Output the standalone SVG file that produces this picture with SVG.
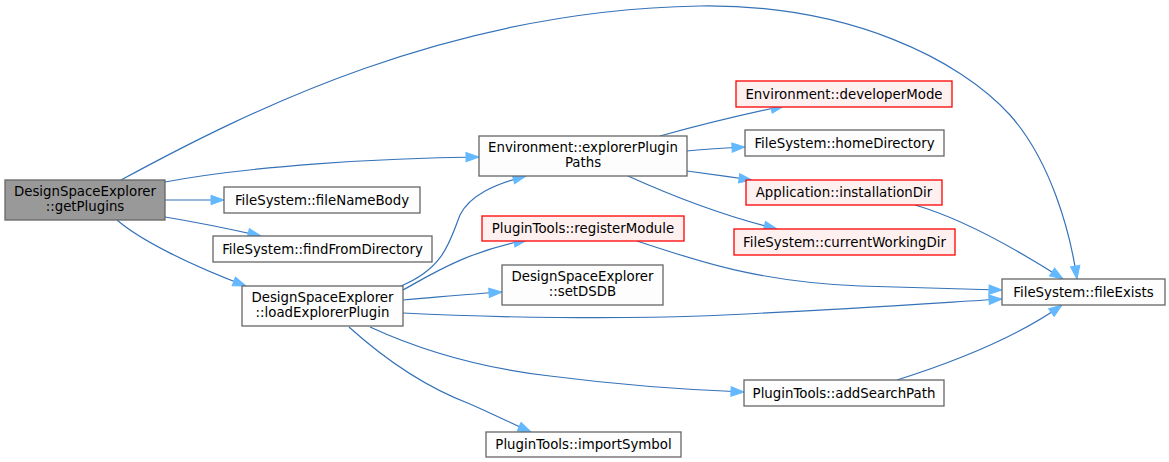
<svg xmlns="http://www.w3.org/2000/svg" width="1169" height="462" viewBox="0 0 1169 462">
<defs>
<style>
.n rect{fill:#fcfdfc;stroke:#666666;stroke-width:1.3}
.n.r rect{fill:#fff0f0;stroke:#ff0000}
.n.g rect{fill:#999999;stroke:#666666}
.n text{font-family:"DejaVu Sans",sans-serif;font-size:13.33px;fill:#000;text-anchor:middle}
.e path{fill:none;stroke:#3572b8;stroke-width:1.2;marker-end:url(#ah)}
</style>
<marker id="ah" markerUnits="userSpaceOnUse" markerWidth="14" markerHeight="10" refX="13" refY="4.7" orient="auto" overflow="visible">
<path d="M0,0 L13,4.7 L0,9.4 z" fill="#63b8ff" stroke="#63b8ff" stroke-width="1"/>
</marker>
</defs>
<rect width="1169" height="462" fill="#ffffff"/>
<g id="edges" class="e">
<path d="M121,180 C250,110 450,10 700,6 C850,4 960,60 1010,115 C1050,160 1070,230 1077,279"/>
<path d="M165,182 C250,166 380,158 479,157"/>
<path d="M165,200 L224,200"/>
<path d="M165,217 C195,222 230,229 261,236"/>
<path d="M117,220 C140,240 190,265 246,286"/>
<path d="M401,286 C445,268 450,240 460,215 C470,195 495,184 526,176"/>
<path d="M403,290 C430,275 470,250 527,240"/>
<path d="M403,300 C440,297 470,294 502,292"/>
<path d="M403,313 C500,318 620,319 700,316 C800,312 920,304 1002,299"/>
<path d="M637,241 C700,262 760,282 860,286 C920,288 960,289 1002,290"/>
<path d="M370,327 C420,350 480,368 550,376 C620,385 690,390 744,392"/>
<path d="M349,327 C380,355 420,385 470,404 C495,415 515,425 531,432"/>
<path d="M660,136 C700,125 740,115 784,106"/>
<path d="M687,151 C705,149 725,148 745,147"/>
<path d="M687,171 C710,174 730,177 752,180"/>
<path d="M628,176 C670,195 720,215 777,229"/>
<path d="M915,205 C960,218 1010,245 1063,279"/>
<path d="M897,380 C960,360 1020,335 1062,305"/>
</g>
<g id="node_getPlugins" class="n g"><rect x="5" y="180" width="160" height="40"/><text x="85" y="196">DesignSpaceExplorer</text><text x="85" y="211">::getPlugins</text></g>
<g id="node_fileNameBody" class="n"><rect x="224" y="187" width="196" height="26"/><text x="322" y="204.5">FileSystem::fileNameBody</text></g>
<g id="node_findFromDirectory" class="n"><rect x="213" y="236" width="219" height="26"/><text x="322.5" y="253.5">FileSystem::findFromDirectory</text></g>
<g id="node_loadExplorerPlugin" class="n"><rect x="242" y="286" width="161" height="40"/><text x="322.5" y="302">DesignSpaceExplorer</text><text x="322.5" y="317">::loadExplorerPlugin</text></g>
<g id="node_explorerPluginPaths" class="n"><rect x="479" y="136" width="208" height="40"/><text x="583" y="152">Environment::explorerPlugin</text><text x="583" y="167">Paths</text></g>
<g id="node_registerModule" class="n r"><rect x="482" y="216" width="202" height="25"/><text x="583" y="233">PluginTools::registerModule</text></g>
<g id="node_setDSDB" class="n"><rect x="502" y="265" width="161" height="40"/><text x="582.5" y="281">DesignSpaceExplorer</text><text x="582.5" y="296">::setDSDB</text></g>
<g id="node_importSymbol" class="n"><rect x="486" y="432" width="195" height="25"/><text x="583.5" y="449">PluginTools::importSymbol</text></g>
<g id="node_developerMode" class="n r"><rect x="736" y="81" width="216" height="26"/><text x="844" y="98.5">Environment::developerMode</text></g>
<g id="node_homeDirectory" class="n"><rect x="745" y="130" width="199" height="26"/><text x="844.5" y="147.5">FileSystem::homeDirectory</text></g>
<g id="node_installationDir" class="n r"><rect x="746" y="180" width="196" height="25"/><text x="844" y="197">Application::installationDir</text></g>
<g id="node_currentWorkingDir" class="n r"><rect x="734" y="229" width="221" height="26"/><text x="844.5" y="246.5">FileSystem::currentWorkingDir</text></g>
<g id="node_addSearchPath" class="n"><rect x="744" y="380" width="200" height="26"/><text x="844" y="397.5">PluginTools::addSearchPath</text></g>
<g id="node_fileExists" class="n"><rect x="1002" y="279" width="163" height="26"/><text x="1083.5" y="296.5">FileSystem::fileExists</text></g>
</svg>
